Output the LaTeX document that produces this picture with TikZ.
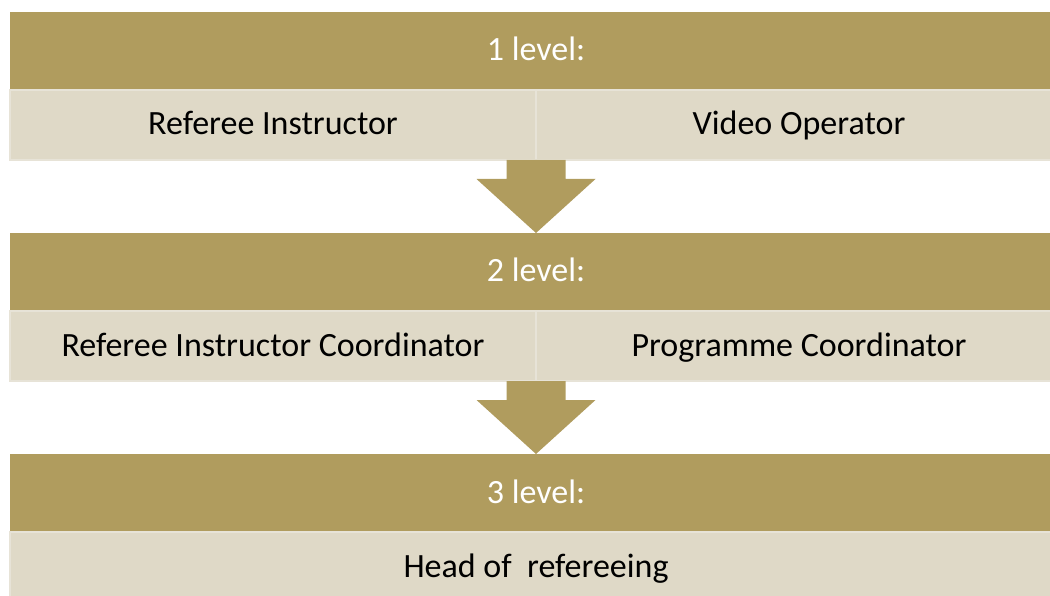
\documentclass[tikz,border=0pt]{standalone}
\usepackage{fontspec}
\setmainfont{Carlito}
\usepackage{tikz}
\usetikzlibrary{calc, positioning}
\definecolor{gold}{HTML}{B09C5E}
\definecolor{beige}{HTML}{DFD9C7}
\definecolor{beigeline}{HTML}{E7E3D7}
\newcommand{\blockarrow}[2]{%
  \fill[gold] ($(#1)+(-29.5,0)$) -- ($(#1)+(29.5,0)$) -- ($(#1)+(29.5,19)$)
    -- ($(#1)+(59.5,19)$) -- (#2) -- ($(#1)+(-59.5,19)$)
    -- ($(#1)+(-29.5,19)$) -- cycle;}

\begin{document}
\begin{tikzpicture}[
    x = 1pt, y = -1pt,
    node distance = 0pt and 0pt,
    band/.style = {rectangle, fill=gold, text=white, minimum width=1052pt,
      minimum height=78pt, inner sep=0pt, outer sep=0pt,
      text height=26pt, text depth=6pt},
    cell/.style = {rectangle, fill=beige, draw=beigeline, line width=1.5pt,
      text=black, minimum width=526pt, minimum height=70pt, inner sep=0pt,
      outer sep=0pt, text height=26pt, text depth=6pt},
    wide/.style = {cell, minimum width=1052pt},
    font=\fontsize{34}{40}\selectfont
    ]

  \useasboundingbox (0,0) rectangle (1050,596);
  \clip (0,0) rectangle (1050,596);

  \node[band] (lvl1) at (536,51) {1 level:} ;
  \node[cell, anchor=north east] (instructor) at (lvl1.south) {Referee Instructor} ;
  \node[cell, anchor=north west] (video) at (lvl1.south) {Video Operator} ;

  \node[band] (lvl2) [below=73pt of instructor.south east] {2 level:} ;
  \node[cell, anchor=north east] (coordinator) at (lvl2.south) {Referee Instructor Coordinator} ;
  \node[cell, anchor=north west] (programme) at (lvl2.south) {Programme Coordinator} ;

  \node[band] (lvl3) [below=73pt of coordinator.south east] {3 level:} ;
  \node[wide] (head) [below=of lvl3] {Head of\ \ refereeing} ;

  \blockarrow{instructor.south east}{lvl2.north}
  \blockarrow{coordinator.south east}{lvl3.north}

\end{tikzpicture}
\end{document}
